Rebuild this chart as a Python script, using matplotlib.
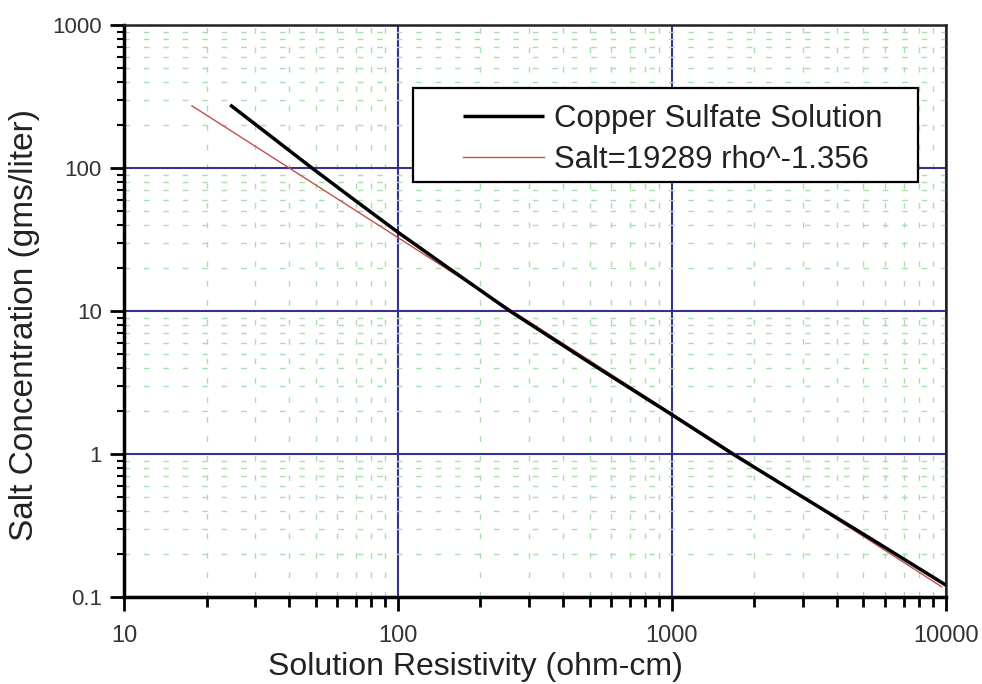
import matplotlib
matplotlib.use("Agg")
import matplotlib.pyplot as plt
from matplotlib.patches import Rectangle
from matplotlib.ticker import LogLocator, FixedLocator, NullFormatter

plt.rcParams['font.family'] = ['Liberation Sans', 'DejaVu Sans']

# Data
resistivity_cu = [24.4, 35, 48.5, 70, 100, 150, 256, 500, 1000, 1667, 3000, 5000, 10000]
conc_cu = [276, 162, 100, 59, 35.5, 20.5, 10, 4.36, 1.88, 1.0, 0.50, 0.275, 0.121]

resistivity_fit = [17.7, 100, 1000, 9640]
conc_fit = [272, 32.6, 1.92, 0.118]

x_ticks = [10, 100, 1000, 10000]
x_ticklabels = ['10', '100', '1000', '10000']
y_ticks = [0.1, 1, 10, 100, 1000]
y_ticklabels = ['0.1', '1', '10', '100', '1000']

label_cu = 'Copper Sulfate Solution'
label_fit = 'Salt=19289 rho^-1.356'

fig = plt.figure(figsize=(9.82, 6.84), dpi=100)
ax = fig.add_axes([0.1263, 0.1272, 0.8370, 0.8363])
ax.set_xscale('log')
ax.set_yscale('log')
ax.set_xlim(10, 10000)
ax.set_ylim(0.1, 1000)

# grids
ax.grid(which='minor', color='#a9dfa9', linestyle=(0, (4, 10)), linewidth=1.0, zorder=0)
ax.grid(which='major', color='#34348f', linestyle='-', linewidth=1.5, zorder=1)
ax.set_axisbelow(True)

l1, = ax.plot(resistivity_cu, conc_cu, color='black', lw=2.5, zorder=4, solid_capstyle='butt')
l2, = ax.plot(resistivity_fit, conc_fit, color='#c0504d', lw=1.0, zorder=3)

ax.xaxis.set_major_locator(FixedLocator(x_ticks))
ax.set_xticklabels(x_ticklabels)
ax.yaxis.set_major_locator(FixedLocator(y_ticks))
ax.set_yticklabels(y_ticklabels)
ax.xaxis.set_minor_locator(LogLocator(base=10, subs=range(2, 10)))
ax.yaxis.set_minor_locator(LogLocator(base=10, subs=range(2, 10)))
ax.xaxis.set_minor_formatter(NullFormatter())
ax.yaxis.set_minor_formatter(NullFormatter())

ax.tick_params(axis='x', which='major', direction='out', length=10, width=2, labelsize=17,
               labelcolor='#333333', pad=10)
ax.tick_params(axis='x', which='minor', direction='out', length=7, width=2)
ax.tick_params(axis='y', which='major', direction='out', length=10, width=2, labelsize=16,
               labelcolor='#333333', pad=6)
ax.tick_params(axis='y', which='minor', direction='out', length=5, width=1.5)

for s in ['left', 'bottom']:
    ax.spines[s].set_linewidth(2.5)
    ax.spines[s].set_color('black')
for s in ['top', 'right']:
    ax.spines[s].set_linewidth(1.8)
    ax.spines[s].set_color('#222222')

fig.text(475 / 982, 1 - 667 / 684, 'Solution Resistivity (ohm-cm)', fontsize=23,
         color='#222222', ha='center', va='center')
fig.text(25 / 982, 1 - 325 / 684, 'Salt Concentration (gms/liter)', fontsize=24,
         color='#222222', ha='center', va='center', rotation=90)

# legend frame and content
rect = Rectangle((0.3516, 0.7255), 0.6144, 0.1644, transform=ax.transAxes,
                 facecolor='white', edgecolor='black', lw=1.6, zorder=5)
ax.add_patch(rect)
leg = ax.legend([l1, l2], [label_cu, label_fit], loc='upper left',
                bbox_to_anchor=(0.4123, 0.862), frameon=False, fontsize=22.4,
                handlelength=2.6, handletextpad=0.32, labelspacing=0.36,
                borderpad=0, borderaxespad=0)
leg.set_zorder(6)
for t in leg.get_texts():
    t.set_color('#222222')

fig.savefig('out.png', dpi=100)
